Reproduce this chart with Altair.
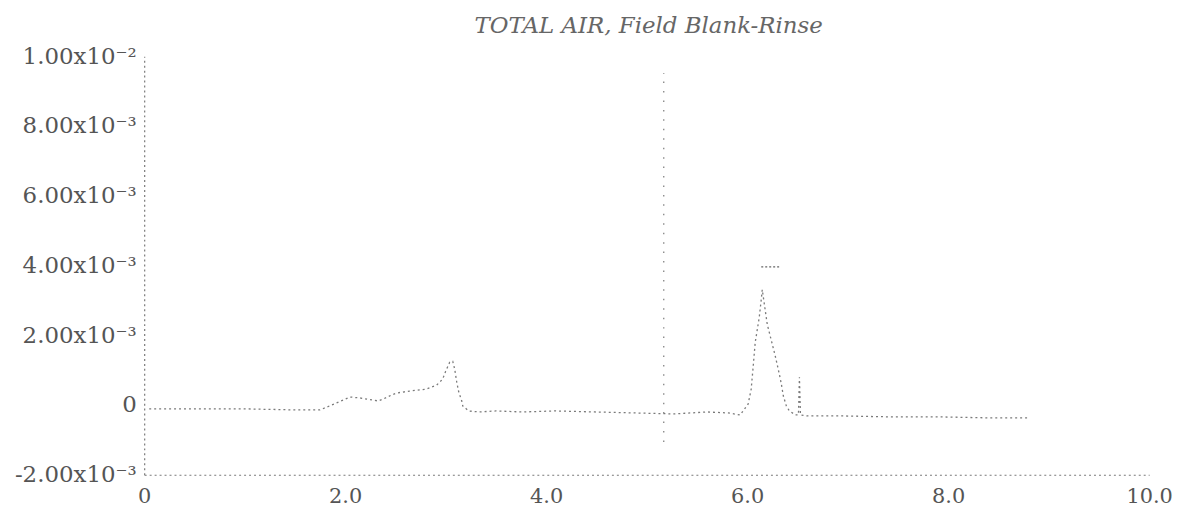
import altair as alt
import pandas as pd

# Trace (time in min, signal)
time_min = [0.05, 0.54, 1.03, 1.53, 1.75, 2.05, 2.15, 2.33, 2.38, 2.46, 2.51, 2.64, 2.81, 2.91,
            2.97, 3.00, 3.04, 3.07, 3.09, 3.11, 3.13, 3.16, 3.17, 3.23, 3.33, 3.50, 3.76, 4.09,
            4.48, 4.88, 5.27, 5.60, 5.81, 5.93, 6.01, 6.04, 6.06, 6.08, 6.12, 6.14, 6.15, 6.20,
            6.23, 6.28, 6.32, 6.34, 6.36, 6.39, 6.42, 6.48, 6.51, 6.52, 6.53, 6.60, 6.95, 7.44,
            7.93, 8.42, 8.79]
signal_e3 = [-0.114, -0.114, -0.114, -0.143, -0.143, 0.228, 0.200, 0.114, 0.171, 0.285, 0.342,
             0.399, 0.456, 0.570, 0.741, 0.969, 1.226, 1.254, 1.026, 0.656, 0.371, 0.114, -0.029,
             -0.171, -0.200, -0.171, -0.200, -0.171, -0.200, -0.228, -0.257, -0.200, -0.228,
             -0.285, 0.029, 0.456, 1.112, 1.796, 2.509, 3.022, 3.307, 2.309, 1.967, 1.397, 0.884,
             0.599, 0.257, -0.029, -0.171, -0.285, -0.285, 0.798, -0.285, -0.314, -0.314, -0.342,
             -0.342, -0.371, -0.371]

# Vertical marker line and peak top marker
marker_time = [5.17]
marker_low = [-0.00106]
marker_high = [0.00952]
peak_mark_x = [6.14]
peak_mark_x2 = [6.33]
peak_mark_y = [0.00396]

title_text = ["TOTAL AIR, Field Blank-Rinse"]
title_x = [5.02]
title_y = [0.01066]
y_ticks = [-0.002, 0.0, 0.002, 0.004, 0.006, 0.008, 0.010]
y_labels = ["-2.00x10\u207b\u00b3", "0", "2.00x10\u207b\u00b3", "4.00x10\u207b\u00b3",
            "6.00x10\u207b\u00b3", "8.00x10\u207b\u00b3", "1.00x10\u207b\u00b2"]
x_ticks = [0, 2, 4, 6, 8, 10]
x_labels = ["0", "2.0", "4.0", "6.0", "8.0", "10.0"]

df = pd.DataFrame({"t": time_min, "s": [v * 1e-3 for v in signal_e3],
                   "i": list(range(len(time_min)))})
vdf = pd.DataFrame({"t": marker_time, "lo": marker_low, "hi": marker_high})
pdf = pd.DataFrame({"x": peak_mark_x, "x2": peak_mark_x2, "y": peak_mark_y})
tdf = pd.DataFrame({"x": title_x, "y": title_y, "txt": title_text})


def label_expr(vals, labs):
    expr = "''"
    for v, l in reversed(list(zip(vals, labs))):
        expr = f"abs(datum.value - ({v})) < 1e-9 ? '{l}' : ({expr})"
    return expr


FONT = "DejaVu Serif"
GREY = "#555555"
LINE = "#7a7a7a"

xscale = alt.Scale(domain=[0, 10], nice=False, zero=False)
yscale = alt.Scale(domain=[-0.002, 0.010], nice=False, zero=False)

xaxis = alt.Axis(values=x_ticks, labelExpr=label_expr(x_ticks, x_labels), title=None,
                 grid=False, ticks=False, domainDash=[2, 3], domainColor=LINE,
                 domainWidth=1.2, labelFont=FONT, labelFontSize=21, labelColor=GREY,
                 labelPadding=11, labelFlush=False)
yaxis = alt.Axis(values=y_ticks, labelExpr=label_expr(y_ticks, y_labels), title=None,
                 grid=False, ticks=False, domainDash=[2, 3], domainColor=LINE,
                 domainWidth=1.2, labelFont=FONT, labelFontSize=23, labelColor=GREY,
                 labelPadding=8, labelFlush=False)

trace = alt.Chart(df).mark_line(color=LINE, strokeWidth=1.3, strokeDash=[2, 3]).encode(
    x=alt.X("t:Q", scale=xscale, axis=xaxis),
    y=alt.Y("s:Q", scale=yscale, axis=yaxis),
    order="i:Q",
)

vline = alt.Chart(vdf).mark_rule(color=LINE, strokeWidth=1.2, strokeDash=[1.5, 8]).encode(
    x="t:Q", y="lo:Q", y2="hi:Q")

pmark = alt.Chart(pdf).mark_rule(color="#666666", strokeWidth=1.3, strokeDash=[2, 2]).encode(
    x="x:Q", x2="x2:Q", y="y:Q")

title = alt.Chart(tdf).mark_text(font=FONT, fontSize=23, fontStyle="italic", color="#666666",
                                 align="center", baseline="alphabetic").encode(
    x="x:Q", y="y:Q", text="txt:N")

chart = alt.layer(trace, vline, pmark, title).properties(
    width=1011, height=421,
    background="white",
    autosize=alt.AutoSizeParams(type="none"),
    padding={"left": 137, "top": 47, "right": 29, "bottom": 40},
).configure_view(stroke="transparent", strokeWidth=0)

chart.save("out.html", embed_options={"renderer": "svg", "actions": False})
